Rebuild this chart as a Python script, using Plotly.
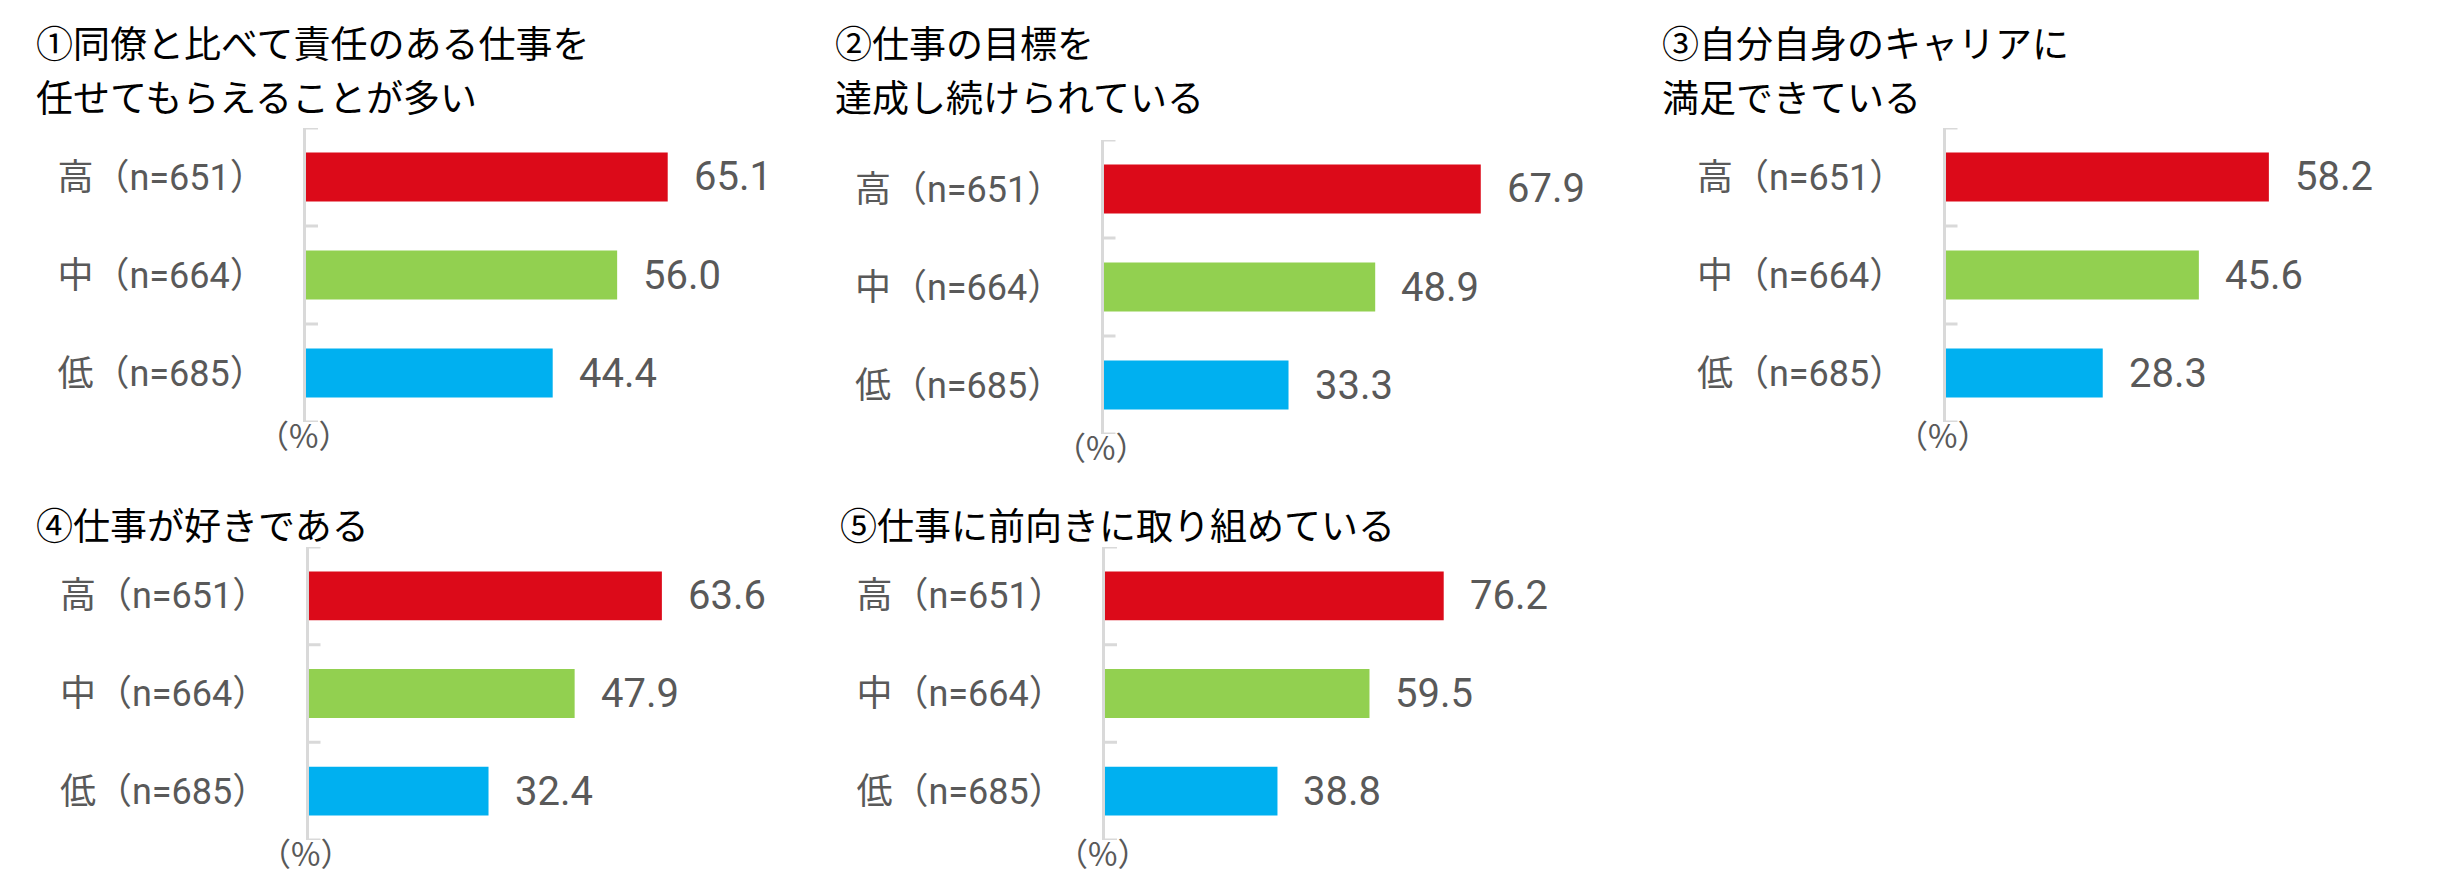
import plotly.graph_objects as go

# ---- data ----
categories = ["高（n=651）", "中（n=664）", "低（n=685）"]
bar_colors = ["#DC0A19", "#92D050", "#00B0F0"]

titles = [
    ["①同僚と比べて責任のある仕事を", "任せてもらえることが多い"],
    ["②仕事の目標を", "達成し続けられている"],
    ["③自分自身のキャリアに", "満足できている"],
    ["④仕事が好きである"],
    ["⑤仕事に前向きに取り組めている"],
]
values1 = [65.1, 56.0, 44.4]
values2 = [67.9, 48.9, 33.3]
values3 = [58.2, 45.6, 28.3]
values4 = [63.6, 47.9, 32.4]
values5 = [76.2, 59.5, 38.8]
all_values = [values1, values2, values3, values4, values5]
x_max = [80, 80, 80, 80, 100]
unit_label = "（%）"

# ---- layout (pixels) ----
W, H = 2437, 886
panels = [
    dict(left=306, top=128, bottom=422, tx=34, ty=[42, 96]),
    dict(left=1103.5, top=140, bottom=434, tx=833, ty=[42, 96]),
    dict(left=1945.5, top=128, bottom=422, tx=1660, ty=[42, 96]),
    dict(left=308.5, top=547, bottom=840, tx=34, ty=[524]),
    dict(left=1105, top=547, bottom=840, tx=838, ty=[524]),
]
PLOT_W = 444.5

LABEL_FONT = "Roboto, 'Noto Sans CJK JP', sans-serif"
CJK_FONT = "'Noto Sans CJK JP', sans-serif"
GRAY = "#595959"
AXIS_GRAY = "#D9D9D9"

fig = go.Figure()
annotations = []
shapes = []

for i, (vals, p) in enumerate(zip(all_values, panels)):
    n = i + 1
    xa = "x" if n == 1 else f"x{n}"
    ya = "y" if n == 1 else f"y{n}"
    fig.add_trace(go.Bar(
        x=vals, y=categories, orientation="h",
        marker=dict(color=bar_colors, line=dict(width=0)),
        width=0.5, xaxis=xa, yaxis=ya, hoverinfo="x+y",
    ))
    xdom = [p["left"] / W, (p["left"] + PLOT_W) / W]
    ydom = [1 - p["bottom"] / H, 1 - p["top"] / H]
    axkey = "xaxis" if n == 1 else f"xaxis{n}"
    aykey = "yaxis" if n == 1 else f"yaxis{n}"
    fig.update_layout({
        axkey: dict(domain=xdom, range=[0, x_max[i]], visible=False,
                    anchor=ya, fixedrange=True),
        aykey: dict(domain=ydom, anchor=xa, type="category",
                    categoryorder="array", categoryarray=categories,
                    range=[2.5, -0.5], showline=True, linecolor=AXIS_GRAY,
                    linewidth=3, showgrid=False, zeroline=False, ticks="",
                    ticklabelstandoff=30,
                    tickfont=dict(family=LABEL_FONT, size=36, color=GRAY),
                    fixedrange=True),
    })
    for b in [-0.5, 0.5, 1.5, 2.5]:
        shapes.append(dict(type="line", xref=xa, yref=ya, xsizemode="pixel",
                           xanchor=0, x0=-12, x1=12, y0=b, y1=b,
                           line=dict(color=AXIS_GRAY, width=3)))
    for c, v in zip(categories, vals):
        annotations.append(dict(x=v, y=c, xref=xa, yref=ya, text=f"{v:.1f}",
                                showarrow=False, xanchor="left", yanchor="middle",
                                xshift=24,
                                font=dict(family=LABEL_FONT, size=40, color=GRAY)))
    annotations.append(dict(x=0, y=0, xref=f"{xa} domain", yref=f"{ya} domain",
                            text=unit_label, showarrow=False, xanchor="center",
                            yanchor="middle", xshift=-3, yshift=-12,
                            font=dict(family=CJK_FONT, size=32, color=GRAY)))
    for line, ty in zip(titles[i], p["ty"]):
        annotations.append(dict(x=p["tx"] / W, y=1 - ty / H, xref="paper", yref="paper",
                                text=line, showarrow=False, xanchor="left",
                                yanchor="middle",
                                font=dict(family=CJK_FONT, size=37, color="#000000")))

fig.update_layout(
    width=W, height=H,
    margin=dict(l=0, r=0, t=0, b=0),
    paper_bgcolor="white", plot_bgcolor="white",
    showlegend=False, annotations=annotations, shapes=shapes,
)

fig.write_html(
    "out.html",
    config={"displayModeBar": False},
    post_script="document.body.style.margin='0';document.body.style.overflow='hidden';",
)
